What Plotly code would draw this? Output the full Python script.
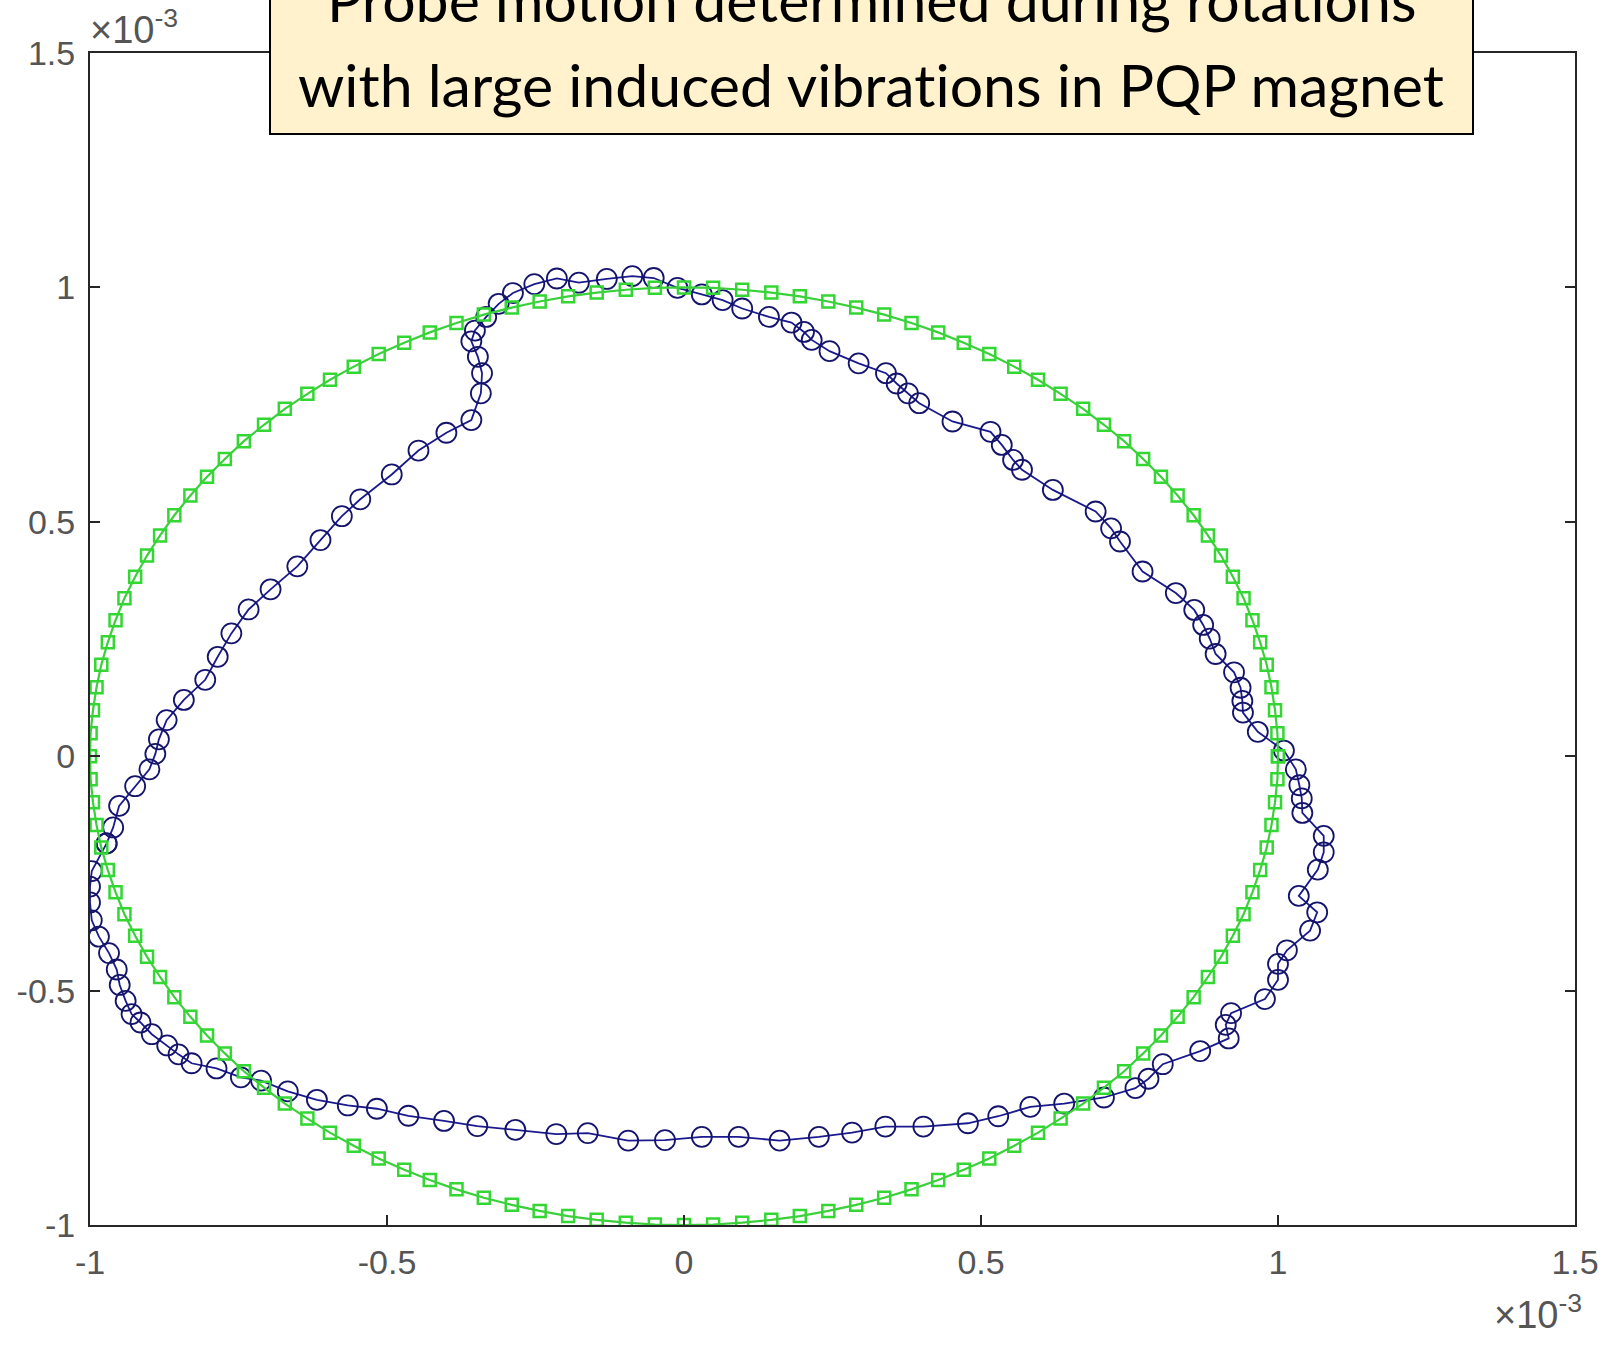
import plotly.graph_objects as go

# Probe position (units of 1e-3) sampled during a rotation with induced vibrations
probe_x = [
    -0.972, -0.961, -0.951, -0.924, -0.900, -0.890, -0.884, -0.871, -0.842, -0.806,
    -0.785, -0.762, -0.733, -0.696, -0.651, -0.612, -0.576, -0.545, -0.492, -0.447,
    -0.400, -0.358, -0.342, -0.340, -0.347, -0.358, -0.352, -0.333, -0.312, -0.288,
    -0.252, -0.214, -0.177, -0.130, -0.087, -0.051, -0.011, 0.030, 0.065, 0.098,
    0.143, 0.181, 0.202, 0.215, 0.245, 0.294, 0.340, 0.358, 0.377, 0.396,
    0.452, 0.516, 0.535, 0.554, 0.569, 0.621, 0.693, 0.719, 0.734, 0.772,
    0.828, 0.859, 0.874, 0.885, 0.895, 0.926, 0.937, 0.940, 0.941, 0.966,
    1.010, 1.030, 1.036, 1.040, 1.041, 1.077, 1.077, 1.067, 1.035, 1.066,
    1.054, 1.015, 1.000, 1.000, 0.978, 0.921, 0.912, 0.917, 0.869, 0.806,
    0.782, 0.760, 0.707, 0.640, 0.583, 0.529, 0.478, 0.403, 0.339, 0.283,
    0.227, 0.161, 0.092, 0.030, -0.032, -0.094, -0.162, -0.215, -0.284, -0.348,
    -0.404, -0.464, -0.517, -0.566, -0.618, -0.667, -0.712, -0.746, -0.787, -0.829,
    -0.851, -0.870, -0.896, -0.915, -0.930, -0.940, -0.950, -0.955, -0.968, -0.985,
    -0.997, -1.000, -1.000, -0.997, -0.972,
]
probe_y = [
    -0.186, -0.152, -0.106, -0.064, -0.028, 0.005, 0.036, 0.077, 0.120, 0.163,
    0.212, 0.262, 0.313, 0.356, 0.405, 0.461, 0.512, 0.548, 0.601, 0.652,
    0.690, 0.717, 0.774, 0.817, 0.852, 0.885, 0.908, 0.937, 0.965, 0.988,
    1.007, 1.019, 1.010, 1.018, 1.024, 1.020, 0.999, 0.985, 0.973, 0.955,
    0.937, 0.925, 0.905, 0.888, 0.864, 0.838, 0.817, 0.795, 0.774, 0.753,
    0.714, 0.692, 0.664, 0.632, 0.611, 0.568, 0.522, 0.486, 0.458, 0.394,
    0.348, 0.312, 0.280, 0.251, 0.218, 0.179, 0.146, 0.118, 0.093, 0.052,
    0.012, -0.028, -0.062, -0.090, -0.121, -0.170, -0.205, -0.242, -0.298, -0.333,
    -0.372, -0.414, -0.443, -0.477, -0.518, -0.548, -0.573, -0.602, -0.629, -0.657,
    -0.688, -0.708, -0.728, -0.741, -0.748, -0.768, -0.783, -0.790, -0.790, -0.803,
    -0.812, -0.820, -0.812, -0.812, -0.819, -0.820, -0.804, -0.806, -0.797, -0.789,
    -0.778, -0.767, -0.752, -0.745, -0.733, -0.715, -0.692, -0.685, -0.666, -0.655,
    -0.636, -0.617, -0.593, -0.568, -0.550, -0.522, -0.488, -0.455, -0.420, -0.385,
    -0.350, -0.312, -0.278, -0.245, -0.186,
]

# Nominal (vibration-free) probe path: unit circle, 128 angular steps
nominal_x = [
    1.000, 0.999, 0.995, 0.989, 0.981, 0.970, 0.957, 0.942, 0.924, 0.904, 0.882,
    0.858, 0.831, 0.803, 0.773, 0.741, 0.707, 0.672, 0.634, 0.596, 0.556, 0.514,
    0.471, 0.428, 0.383, 0.337, 0.290, 0.243, 0.195, 0.147, 0.098, 0.049, 0.000,
    -0.049, -0.098, -0.147, -0.195, -0.243, -0.290, -0.337, -0.383, -0.428, -0.471,
    -0.514, -0.556, -0.596, -0.634, -0.672, -0.707, -0.741, -0.773, -0.803, -0.831,
    -0.858, -0.882, -0.904, -0.924, -0.942, -0.957, -0.970, -0.981, -0.989, -0.995,
    -0.999, -1.000,
    -0.999, -0.995, -0.989, -0.981, -0.970, -0.957, -0.942, -0.924, -0.904, -0.882,
    -0.858, -0.831, -0.803, -0.773, -0.741, -0.707, -0.672, -0.634, -0.596, -0.556,
    -0.514, -0.471, -0.428, -0.383, -0.337, -0.290, -0.243, -0.195, -0.147, -0.098,
    -0.049, 0.000,
    0.049, 0.098, 0.147, 0.195, 0.243, 0.290, 0.337, 0.383, 0.428, 0.471, 0.514,
    0.556, 0.596, 0.634, 0.672, 0.707, 0.741, 0.773, 0.803, 0.831, 0.858, 0.882,
    0.904, 0.924, 0.942, 0.957, 0.970, 0.981, 0.989, 0.995, 0.999, 1.000,
]
nominal_y = [
    0.000, 0.049, 0.098, 0.147, 0.195, 0.243, 0.290, 0.337, 0.383, 0.428, 0.471,
    0.514, 0.556, 0.596, 0.634, 0.672, 0.707, 0.741, 0.773, 0.803, 0.831, 0.858,
    0.882, 0.904, 0.924, 0.942, 0.957, 0.970, 0.981, 0.989, 0.995, 0.999, 1.000,
    0.999, 0.995, 0.989, 0.981, 0.970, 0.957, 0.942, 0.924, 0.904, 0.882, 0.858,
    0.831, 0.803, 0.773, 0.741, 0.707, 0.672, 0.634, 0.596, 0.556, 0.514, 0.471,
    0.428, 0.383, 0.337, 0.290, 0.243, 0.195, 0.147, 0.098, 0.049, 0.000,
    -0.049, -0.098, -0.147, -0.195, -0.243, -0.290, -0.337, -0.383, -0.428, -0.471,
    -0.514, -0.556, -0.596, -0.634, -0.672, -0.707, -0.741, -0.773, -0.803, -0.831,
    -0.858, -0.882, -0.904, -0.924, -0.942, -0.957, -0.970, -0.981, -0.989, -0.995,
    -0.999, -1.000,
    -0.999, -0.995, -0.989, -0.981, -0.970, -0.957, -0.942, -0.924, -0.904, -0.882,
    -0.858, -0.831, -0.803, -0.773, -0.741, -0.707, -0.672, -0.634, -0.596, -0.556,
    -0.514, -0.471, -0.428, -0.383, -0.337, -0.290, -0.243, -0.195, -0.147, -0.098,
    -0.049, 0.000,
]

tick_vals = [-1, -0.5, 0, 0.5, 1, 1.5]
tick_text = ["-1", "-0.5", "0", "0.5", "1", "1.5"]

# A zero-width non-joiner keeps the "ti" pair from fusing into a ligature
title_lines = [
    "Probe mot\u200cion determined during rotat\u200cions",
    "with large induced vibrat\u200cions in PQP magnet",
]
exponent_label = "\u00d710<sup>-3</sup>"

AXIS_COLOR = "#262626"
LABEL_COLOR = "#555555"
W, H = 1613, 1346
ML, MR, MT, MB = 90, 38, 53, 121
plot_w = W - ML - MR
plot_h = H - MT - MB


def px_to_paper_x(px):
    return (px - ML) / plot_w


def px_to_paper_y(py):
    return (H - MB - py) / plot_h


fig = go.Figure()

fig.add_trace(go.Scatter(
    x=probe_x, y=probe_y, mode="lines+markers",
    line=dict(color="#1a1a8e", width=1.8),
    marker=dict(symbol="circle-open", size=20, color="#14146c",
                line=dict(width=1.8, color="#14146c")),
    showlegend=False, hoverinfo="skip",
))

fig.add_trace(go.Scatter(
    x=nominal_x, y=nominal_y, mode="lines+markers",
    line=dict(color="#3ccf3c", width=2.2),
    marker=dict(symbol="square-open", size=12, color="#33d633",
                line=dict(width=2.5, color="#33d633")),
    showlegend=False, hoverinfo="skip",
))

axis_common = dict(
    tickvals=tick_vals, ticktext=tick_text,
    showline=True, linecolor=AXIS_COLOR, linewidth=2, mirror="ticks",
    ticks="inside", ticklen=10, tickwidth=2, tickcolor=AXIS_COLOR,
    showgrid=False, zeroline=False,
    tickfont=dict(family="Liberation Sans", size=34, color=LABEL_COLOR),
)

fig.update_layout(
    width=W, height=H, autosize=False,
    margin=dict(l=ML, r=MR, t=MT, b=MB),
    paper_bgcolor="white", plot_bgcolor="white",
    xaxis=dict(range=[-1, 1.5], ticklabelstandoff=6, **axis_common),
    yaxis=dict(range=[-1, 1.5], ticklabelstandoff=6, **axis_common),
)

# Title box
fig.add_shape(
    type="rect", xref="paper", yref="paper", layer="above",
    x0=px_to_paper_x(270), x1=px_to_paper_x(1473),
    y0=px_to_paper_y(134), y1=px_to_paper_y(-20),
    fillcolor="#FFF2CC", line=dict(color="black", width=2),
)
title_font = dict(family="Lato", size=59, color="black")
fig.add_annotation(
    text=title_lines[0], xref="paper", yref="paper",
    x=px_to_paper_x(871), y=px_to_paper_y(0), xanchor="center", yanchor="middle",
    showarrow=False, font=title_font,
)
fig.add_annotation(
    text=title_lines[1], xref="paper", yref="paper",
    x=px_to_paper_x(871), y=px_to_paper_y(85), xanchor="center", yanchor="middle",
    showarrow=False, font=title_font,
)

# Axis exponent labels
exp_font = dict(family="Liberation Sans", size=38, color=LABEL_COLOR)
fig.add_annotation(
    text=exponent_label, xref="paper", yref="paper",
    x=px_to_paper_x(88), y=px_to_paper_y(1), xanchor="left", yanchor="top",
    showarrow=False, font=exp_font,
)
fig.add_annotation(
    text=exponent_label, xref="paper", yref="paper",
    x=px_to_paper_x(1584), y=px_to_paper_y(1286), xanchor="right", yanchor="top",
    showarrow=False, font=exp_font,
)

fig.write_html("out.html")
